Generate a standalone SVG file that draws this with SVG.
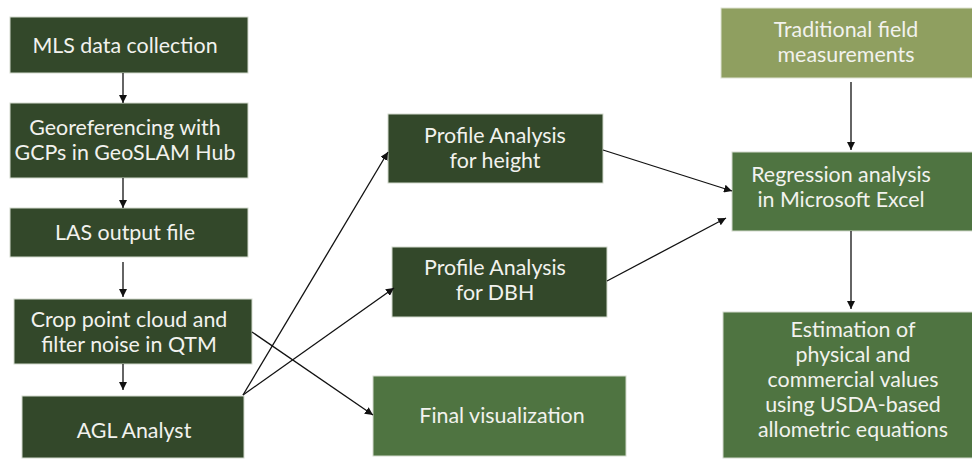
<svg xmlns="http://www.w3.org/2000/svg" width="972" height="459" viewBox="0 0 972 459">
<style>
.dk{fill:#33482a;stroke:#d3dacd;stroke-width:1}
.md{fill:#4f7441;stroke:#d3dacd;stroke-width:1}
.ol{fill:#8f9f60;stroke:#e0e4d4;stroke-width:1}
text{font-family:Lato,"Open Sans","Liberation Sans",sans-serif;font-size:21.4px;fill:#f2f2ee;text-anchor:middle}
.c{stroke:#111;stroke-width:1.3;fill:none;marker-end:url(#ah)}
</style>
<defs>
<marker id="ah" viewBox="0 0 10 10" refX="10" refY="5" markerWidth="8" markerHeight="8" markerUnits="userSpaceOnUse" orient="auto">
<path d="M0,0L10,5L0,10z" fill="#111"/>
</marker>
</defs>
<rect width="972" height="459" fill="#fff"/>
<g id="n1"><rect class="dk" x="10" y="17" width="238" height="56"/><text x="125" y="53">MLS data collection</text></g>
<g id="n2"><rect class="dk" x="10" y="103" width="238" height="75"/><text x="125" y="135">Georeferencing with</text><text x="125" y="160">GCPs in GeoSLAM Hub</text></g>
<g id="n3"><rect class="dk" x="10" y="208" width="238" height="49"/><text x="125" y="240">LAS output file</text></g>
<g id="n4"><rect class="dk" x="14" y="299" width="238" height="65"/><text x="129" y="327">Crop point cloud and</text><text x="129" y="352">filter noise in QTM</text></g>
<g id="n5"><rect class="dk" x="22" y="396" width="222" height="62"/><text x="134" y="438">AGL Analyst</text></g>
<g id="n6"><rect class="dk" x="388" y="114" width="215" height="69"/><text x="495" y="143">Profile Analysis</text><text x="495" y="168">for height</text></g>
<g id="n7"><rect class="dk" x="392" y="247" width="215" height="70"/><text x="495" y="275">Profile Analysis</text><text x="495" y="300">for DBH</text></g>
<g id="n8"><rect class="md" x="373" y="376" width="253" height="80"/><text x="502" y="423">Final visualization</text></g>
<g id="n9"><rect class="ol" x="721" y="8" width="252" height="70"/><text x="846" y="37">Traditional field</text><text x="846" y="62">measurements</text></g>
<g id="n10"><rect class="md" x="732" y="152" width="241" height="79"/><text x="841" y="182">Regression analysis</text><text x="841" y="207">in Microsoft Excel</text></g>
<g id="n11"><rect class="md" x="723" y="312" width="250" height="146"/><text x="853" y="337">Estimation of</text><text x="853" y="362">physical and</text><text x="853" y="387">commercial values</text><text x="853" y="412">using USDA-based</text><text x="853" y="437">allometric equations</text></g>
<g id="connectors">
<path class="c" d="M123,73V103"/>
<path class="c" d="M123,178V208"/>
<path class="c" d="M123,262V297"/>
<path class="c" d="M123,364V390"/>
<path class="c" d="M243,395L388,152"/>
<path class="c" d="M243,395L394,288"/>
<path class="c" d="M252,332L373,415"/>
<path class="c" d="M603,150L732,191"/>
<path class="c" d="M607,281L726,218"/>
<path class="c" d="M851,82V150"/>
<path class="c" d="M851,231V309"/>
</g>
</svg>
